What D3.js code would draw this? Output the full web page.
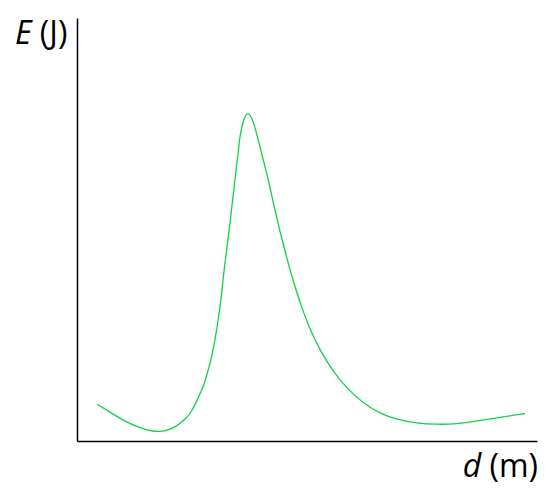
<!DOCTYPE html>
<html>
<head>
<meta charset="utf-8">
<script src="https://cdn.jsdelivr.net/npm/d3@7"></script>
<style>
  html, body { margin: 0; padding: 0; background: #fff; }
  svg { display: block; }
</style>
</head>
<body>
<svg id="chart" width="558" height="501"></svg>
<script>
// Distance d (m) — arbitrary units, axis has no ticks
const dValues = [0.44, 0.72, 1.08, 1.44, 1.77, 2.09, 2.38, 2.49, 2.62, 2.75, 2.83, 2.93, 3.00, 3.07, 3.13, 3.18, 3.25, 3.31, 3.35, 3.40, 3.46, 3.51, 3.54, 3.62, 3.72, 3.83, 3.94, 4.05, 4.16, 4.27, 4.40, 4.48, 4.63, 4.74, 4.88, 5.07, 5.28, 5.57, 5.86, 6.22, 6.59, 6.95, 7.38, 7.82, 8.25, 8.69, 9.20, 9.74];
// Energy E (J)
const eValues = [0.87, 0.68, 0.44, 0.28, 0.20, 0.28, 0.54, 0.69, 0.99, 1.29, 1.59, 1.99, 2.39, 2.86, 3.33, 3.88, 4.50, 4.99, 5.39, 5.86, 6.41, 6.88, 7.21, 7.62, 7.81, 7.58, 7.12, 6.64, 6.17, 5.62, 5.01, 4.67, 4.04, 3.65, 3.17, 2.62, 2.15, 1.64, 1.25, 0.89, 0.65, 0.51, 0.42, 0.39, 0.40, 0.47, 0.56, 0.65];
const xDomain = [0, 10];
const yDomain = [0, 10];
const xLabel = "(m)", xVar = "d";
const yLabel = "(J)", yVar = "E";

(function () {
const data = dValues.map((d, i) => ({ d, e: eValues[i] }));

const svg = d3.select("#chart");
const mLeft = 77, mRight = 537, mTop = 18, mBottom = 441;

const x = d3.scaleLinear().domain(xDomain).range([mLeft, mRight]);
const y = d3.scaleLinear().domain(yDomain).range([mBottom, mTop]);

// axes (no ticks)
svg.append("g")
  .attr("transform", `translate(0,${mBottom})`)
  .call(d3.axisBottom(x).tickValues([]).tickSizeOuter(0))
  .call(g => g.select(".domain").attr("stroke", "#000").attr("stroke-width", 1.5));
svg.append("g")
  .attr("transform", `translate(${mLeft},0)`)
  .call(d3.axisLeft(y).tickValues([]).tickSizeOuter(0))
  .call(g => g.select(".domain").attr("stroke", "#000").attr("stroke-width", 1.5));

// curve
const line = d3.line()
  .x(p => x(p.d))
  .y(p => y(p.e))
  .curve(d3.curveBasis);

svg.append("path")
  .datum(data)
  .attr("fill", "none")
  .attr("stroke", "#12d04a")
  .attr("stroke-width", 1.3)
  .attr("d", line);

// labels
const font = "'Open Sans', 'Noto Sans', sans-serif";
const yl = svg.append("text")
  .attr("x", 15).attr("y", 44)
  .attr("font-family", font).attr("font-size", 32).attr("fill", "#000");
yl.append("tspan").attr("font-style", "italic").text(yVar);
yl.append("tspan").text(" " + yLabel);

const xl = svg.append("text")
  .attr("x", 538).attr("y", 477)
  .attr("text-anchor", "end")
  .attr("font-family", font).attr("font-size", 32).attr("fill", "#000");
xl.append("tspan").attr("font-style", "italic").text(xVar);
xl.append("tspan").text(" " + xLabel);
})();
</script>
</body>
</html>
